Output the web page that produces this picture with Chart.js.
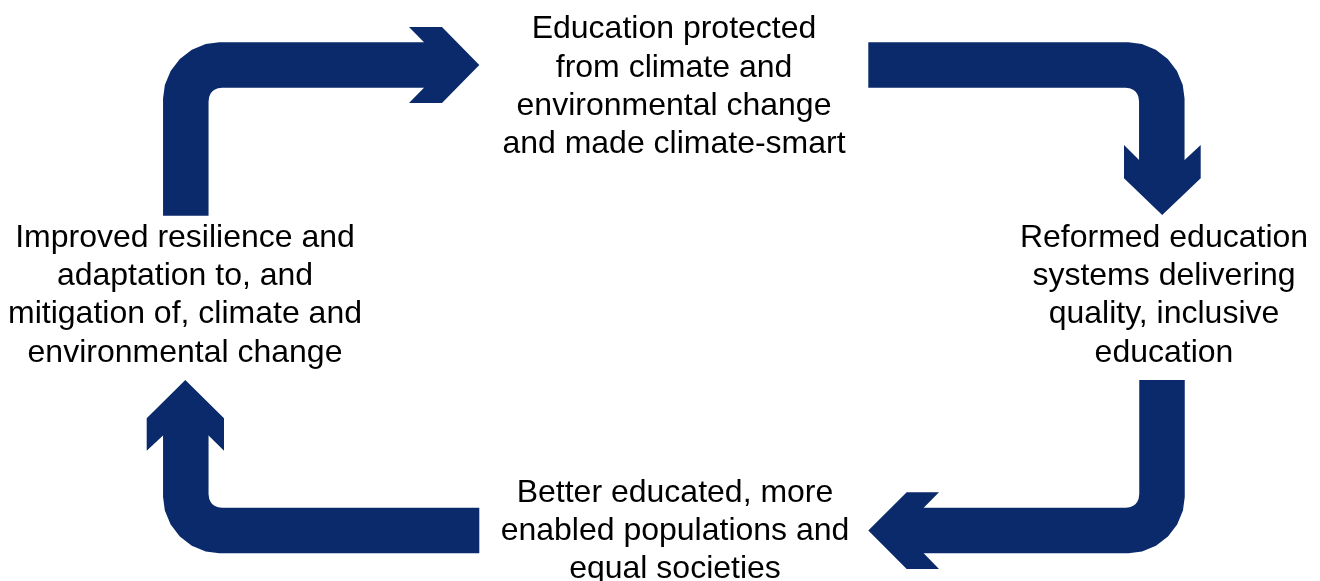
<!DOCTYPE html>
<html>
<head>
<meta charset="utf-8">
<title>Education and climate cycle</title>
<script src="https://cdn.jsdelivr.net/npm/chart.js@4.4.1/dist/chart.umd.min.js"></script>
<style>
  html, body { margin: 0; padding: 0; background: #ffffff; }
  #wrap { width: 1320px; height: 581px; }
</style>
</head>
<body>
<div id="wrap"><canvas id="chart" width="1320" height="581"></canvas></div>
<script>
// stages of the cycle, clockwise from the top
var stages = ["top", "right", "bottom", "left"];

var labelTop = ["Education protected", "from climate and", "environmental change", "and made climate-smart"];
var labelRight = ["Reformed education", "systems delivering", "quality, inclusive", "education"];
var labelBottom = ["Better educated, more", "enabled populations and", "equal societies"];
var labelLeft = ["Improved resilience and", "adaptation to, and", "mitigation of, climate and", "environmental change"];

// arrow bodies: centre line of each bent arrow (x, y in picture units)
var bodyLeftToTop = [
  {x: 185.8, y: 215.7}, {x: 185.8, y: 100}, {x: 187.0, y: 90.9}, {x: 190.5, y: 82.5},
  {x: 196.05, y: 75.25}, {x: 203.3, y: 69.7}, {x: 211.7, y: 66.2}, {x: 220.8, y: 65},
  {x: 430, y: 65}
];
var bodyTopToRight = [
  {x: 868.3, y: 65}, {x: 1126.8, y: 65}, {x: 1135.9, y: 66.2}, {x: 1144.3, y: 69.7},
  {x: 1151.55, y: 75.25}, {x: 1157.1, y: 82.5}, {x: 1160.6, y: 90.9}, {x: 1161.8, y: 100},
  {x: 1161.8, y: 168}
];
var bodyRightToBottom = [
  {x: 1162, y: 380}, {x: 1162, y: 495.5}, {x: 1160.8, y: 504.6}, {x: 1157.3, y: 513},
  {x: 1151.75, y: 520.25}, {x: 1144.5, y: 525.8}, {x: 1136.1, y: 529.3}, {x: 1127, y: 530.5},
  {x: 918, y: 530.5}
];
var bodyBottomToLeft = [
  {x: 479.3, y: 530.5}, {x: 220.8, y: 530.5}, {x: 211.7, y: 529.3}, {x: 203.3, y: 525.8},
  {x: 196.05, y: 520.25}, {x: 190.5, y: 513}, {x: 187.0, y: 504.6}, {x: 185.8, y: 495.5},
  {x: 185.8, y: 428}
];

// arrow heads: outline of each chevron
var headLeftToTop = [
  {x: 409, y: 27}, {x: 442, y: 27}, {x: 479.3, y: 65}, {x: 442, y: 103},
  {x: 409, y: 103}, {x: 424, y: 87.7}, {x: 424, y: 42.3}
];
var headTopToRight = [
  {x: 1124, y: 145}, {x: 1139.3, y: 160.3}, {x: 1184.3, y: 160.3}, {x: 1200.7, y: 145},
  {x: 1200.7, y: 178.3}, {x: 1162.2, y: 215}, {x: 1124, y: 178.3}
];
var headRightToBottom = [
  {x: 868.3, y: 530.5}, {x: 906.7, y: 492.3}, {x: 939, y: 492.3}, {x: 923.7, y: 507.7},
  {x: 923.7, y: 553.3}, {x: 939, y: 569}, {x: 906.7, y: 569}
];
var headBottomToLeft = [
  {x: 185.3, y: 380}, {x: 224, y: 418.3}, {x: 224, y: 450.7}, {x: 208.3, y: 435.2},
  {x: 163.3, y: 435.2}, {x: 146.7, y: 450.7}, {x: 146.7, y: 418.3}
];

var navy = "#0b2a6b";

// where each label block sits: centre x, first baseline y
var labelPlacement = {
  top: {x: 674, y: 38.3, lines: labelTop},
  right: {x: 1164, y: 246.7, lines: labelRight},
  bottom: {x: 675, y: 501.7, lines: labelBottom},
  left: {x: 185, y: 246.7, lines: labelLeft}
};
var lineStep = 38.3;

function body(points) {
  return {
    data: points,
    showLine: true,
    borderColor: navy,
    borderWidth: 45.5,
    borderCapStyle: "butt",
    borderJoinStyle: "miter",
    pointRadius: 0,
    pointHoverRadius: 0,
    pointHitRadius: 0,
    fill: false,
    tension: 0,
    clip: false
  };
}

function head(points) {
  return {
    data: points,
    showLine: true,
    borderColor: navy,
    borderWidth: 0,
    backgroundColor: navy,
    pointRadius: 0,
    pointHoverRadius: 0,
    pointHitRadius: 0,
    fill: "shape",
    tension: 0,
    clip: false
  };
}

var labelsPlugin = {
  id: "stageLabels",
  afterDatasetsDraw: function (chart) {
    var ctx = chart.ctx;
    var xs = chart.scales.x;
    var ys = chart.scales.y;
    ctx.save();
    ctx.fillStyle = "#000000";
    ctx.font = '32px "Liberation Sans", Arial, sans-serif';
    ctx.textAlign = "center";
    ctx.textBaseline = "alphabetic";
    stages.forEach(function (s) {
      var p = labelPlacement[s];
      p.lines.forEach(function (line, i) {
        ctx.fillText(line, xs.getPixelForValue(p.x), ys.getPixelForValue(p.y + i * lineStep));
      });
    });
    ctx.restore();
  }
};

function generateChart() {
  new Chart(document.getElementById("chart"), {
    type: "scatter",
    data: {
      datasets: [
        body(bodyLeftToTop), head(headLeftToTop),
        body(bodyTopToRight), head(headTopToRight),
        body(bodyRightToBottom), head(headRightToBottom),
        body(bodyBottomToLeft), head(headBottomToLeft)
      ]
    },
    options: {
      responsive: false,
      animation: false,
      events: [],
      layout: { padding: 0 },
      plugins: {
        legend: { display: false },
        tooltip: { enabled: false }
      },
      scales: {
        x: { type: "linear", min: 0, max: 1320, display: false },
        y: { type: "linear", min: 0, max: 581, reverse: true, display: false }
      }
    },
    plugins: [labelsPlugin]
  });
}

generateChart();
</script>
</body>
</html>
